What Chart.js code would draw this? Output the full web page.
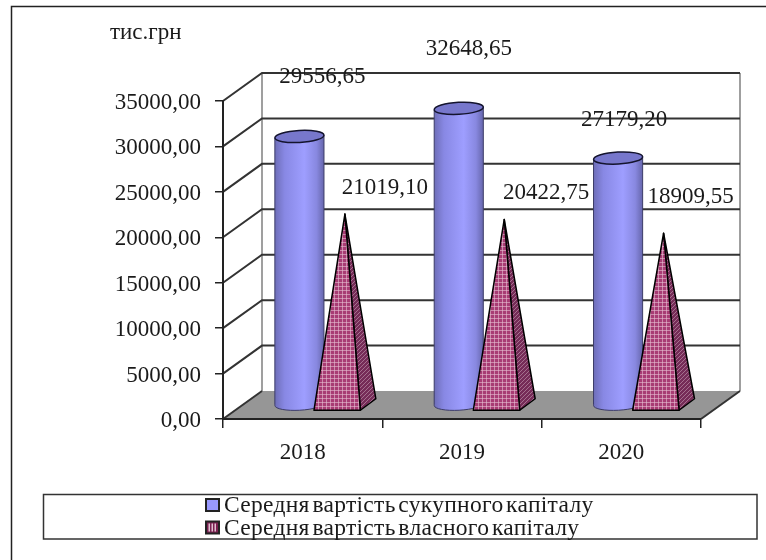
<!DOCTYPE html>
<html>
<head>
<meta charset="utf-8">
<title>Середня вартість капіталу</title>
<script src="https://cdn.jsdelivr.net/npm/chart.js@4"></script>
<style>
    html, body { margin: 0; padding: 0; background: #fff; }
    canvas { display: block; }
</style>
</head>
<body>
<canvas id="chartCanvas" width="766" height="560"></canvas>
<script>
const years = ['2018', '2019', '2020'];
const totalCapital = [29556.65, 32648.65, 27179.20];
const ownCapital = [21019.10, 20422.75, 18909.55];
const seriesNames = ['Середня вартість сукупного капіталу', 'Середня вартість власного капіталу'];
const unitLabel = 'тис.грн';
const axisMax = 35000;
const axisStep = 5000;

const FONT = '"Liberation Serif", "Times New Roman", serif';
const TEXT = '#1a1a1a';
// depth of the fake 3D box, marks stand in the middle of it
const DEPTH_X = 39;
const DEPTH_Y = 28;
// hand placed data labels in the original, offset from the top of each mark
const labelOffsets = [
    [[23, -60], [10, -59], [6, -38]],
    [[40, -26], [42, -26], [27, -36]]
];

function money(v) {
    return v.toFixed(2).replace('.', ',');
}

function plaidPattern() {
    const c = document.createElement('canvas');
    c.width = 4; c.height = 4;
    const g = c.getContext('2d');
    g.fillStyle = '#a83c74';
    g.fillRect(0, 0, 4, 4);
    g.fillStyle = 'rgba(230,190,210,0.6)';
    g.fillRect(2, 0, 1, 4);
    g.fillRect(0, 2, 4, 1);
    return c;
}

function hatchPattern() {
    const c = document.createElement('canvas');
    c.width = 4; c.height = 4;
    const g = c.getContext('2d');
    g.fillStyle = '#762c58';
    g.fillRect(0, 0, 4, 4);
    g.fillStyle = '#a5708e';
    for (let i = 0; i < 4; i++) g.fillRect(i, 3 - i, 1, 1);
    return c;
}

function drawBox(chart) {
    const ctx = chart.ctx;
    const area = chart.chartArea;
    const y = chart.scales.y;
    ctx.save();
    // floor
    ctx.fillStyle = '#969696';
    ctx.beginPath();
    ctx.moveTo(area.left, area.bottom);
    ctx.lineTo(area.right, area.bottom);
    ctx.lineTo(area.right + DEPTH_X, area.bottom - DEPTH_Y);
    ctx.lineTo(area.left + DEPTH_X, area.bottom - DEPTH_Y);
    ctx.closePath();
    ctx.fill();
    // walls
    ctx.strokeStyle = '#808080';
    ctx.lineWidth = 1.5;
    ctx.beginPath();
    ctx.moveTo(area.left + DEPTH_X, area.top - DEPTH_Y);
    ctx.lineTo(area.left + DEPTH_X, area.bottom - DEPTH_Y);
    ctx.moveTo(area.right + DEPTH_X, area.top - DEPTH_Y);
    ctx.lineTo(area.right + DEPTH_X, area.bottom - DEPTH_Y);
    ctx.stroke();
    // grid lines run along the side wall and the back wall
    ctx.strokeStyle = '#333';
    ctx.lineWidth = 2;
    y.ticks.forEach(function (t) {
        const py = y.getPixelForValue(t.value);
        ctx.beginPath();
        ctx.moveTo(area.left, py);
        ctx.lineTo(area.left + DEPTH_X, py - DEPTH_Y);
        if (t.value > 0) ctx.lineTo(area.right + DEPTH_X, py - DEPTH_Y);
        ctx.stroke();
    });
    ctx.beginPath();
    ctx.moveTo(area.right, area.bottom);
    ctx.lineTo(area.right + DEPTH_X, area.bottom - DEPTH_Y);
    ctx.stroke();
    ctx.restore();
}

function drawCylinder(ctx, bar) {
    const rx = bar.width * 0.54;
    const ry = 6;
    const cx = bar.x + DEPTH_X / 2;
    const top = bar.y - DEPTH_Y / 2;
    const base = bar.base - DEPTH_Y / 2;
    const tilt = -0.055;
    const grad = ctx.createLinearGradient(cx - rx, 0, cx + rx, 0);
    grad.addColorStop(0, '#6e6eb8');
    grad.addColorStop(0.2, '#8888e4');
    grad.addColorStop(0.6, '#9e9eff');
    grad.addColorStop(0.85, '#8888e0');
    grad.addColorStop(1, '#6666ac');
    ctx.fillStyle = grad;
    ctx.strokeStyle = '#3c3c68';
    ctx.lineWidth = 1;
    ctx.beginPath();
    ctx.moveTo(cx - rx, top + 1.5);
    ctx.lineTo(cx - rx, base);
    ctx.ellipse(cx, base, rx, ry, tilt, Math.PI, 0, true);
    ctx.lineTo(cx + rx, top - 1.5);
    ctx.closePath();
    ctx.fill();
    ctx.stroke();
    ctx.beginPath();
    ctx.ellipse(cx, top, rx, ry, tilt, 0, Math.PI * 2);
    ctx.fillStyle = '#7777cc';
    ctx.fill();
    ctx.strokeStyle = '#14142e';
    ctx.lineWidth = 1.5;
    ctx.stroke();
}

function drawPyramid(ctx, bar, plaid, hatch) {
    const cx = bar.x + DEPTH_X / 2;
    const top = bar.y - DEPTH_Y / 2;
    const base = bar.base - DEPTH_Y / 2;
    const w = bar.width;
    const frontLeft = [cx - w * 0.68, base + 6];
    const frontRight = [cx + w * 0.34, base + 6];
    const backRight = [cx + w * 0.68, base - 5.5];
    // side face
    ctx.fillStyle = ctx.createPattern(hatch, 'repeat');
    ctx.beginPath();
    ctx.moveTo(cx, top);
    ctx.lineTo(frontRight[0], frontRight[1]);
    ctx.lineTo(backRight[0], backRight[1]);
    ctx.closePath();
    ctx.fill();
    ctx.strokeStyle = '#000';
    ctx.lineWidth = 1.5;
    ctx.lineJoin = 'round';
    ctx.stroke();
    // front face
    ctx.fillStyle = ctx.createPattern(plaid, 'repeat');
    ctx.beginPath();
    ctx.moveTo(cx, top);
    ctx.lineTo(frontLeft[0], frontLeft[1]);
    ctx.lineTo(frontRight[0], frontRight[1]);
    ctx.closePath();
    ctx.fill();
    ctx.stroke();
}

function drawLegend(chart) {
    const ctx = chart.ctx;
    ctx.save();
    ctx.strokeStyle = '#333';
    ctx.lineWidth = 1.5;
    ctx.strokeRect(43.5, 494.5, 713.5, 44.5);
    ctx.font = '23.5px ' + FONT;
    ctx.letterSpacing = '0.3px';
    ctx.wordSpacing = '-3.5px';
    ctx.textBaseline = 'middle';
    ctx.textAlign = 'left';
    chart.data.datasets.forEach(function (ds, i) {
        const top = 499 + i * 22.5;
        ctx.fillStyle = i === 0 ? '#9999ff' : '#7a2050';
        ctx.fillRect(206, top, 13, 12);
        if (i === 1) {
            ctx.fillStyle = '#e0c0d0';
            ctx.fillRect(208.5, top + 2, 1.5, 8);
            ctx.fillRect(211.5, top + 2, 1.5, 8);
            ctx.fillRect(214.5, top + 2, 1.5, 8);
        }
        ctx.strokeStyle = '#222';
        ctx.lineWidth = 2;
        ctx.strokeRect(206, top, 13, 12);
        ctx.fillStyle = TEXT;
        ctx.fillText(ds.label, 224, top + 7);
    });
    ctx.restore();
}

const plaid = plaidPattern();
const hatch = hatchPattern();

const boxPlugin = {
    id: 'box3d',
    beforeDraw: function (chart) {
        const ctx = chart.ctx;
        ctx.save();
        // page frame, open on the right and at the bottom
        ctx.strokeStyle = '#222';
        ctx.lineWidth = 1.5;
        ctx.beginPath();
        ctx.moveTo(11.5, 560);
        ctx.lineTo(11.5, 6.5);
        ctx.lineTo(766, 6.5);
        ctx.stroke();
        ctx.fillStyle = TEXT;
        ctx.font = '23px ' + FONT;
        ctx.textAlign = 'left';
        ctx.textBaseline = 'middle';
        ctx.fillText(unitLabel, 110, 33);
        ctx.restore();
        drawBox(chart);
    },
    afterDatasetsDraw: function (chart) {
        const ctx = chart.ctx;
        const cylinders = chart.getDatasetMeta(0).data;
        const pyramids = chart.getDatasetMeta(1).data;
        ctx.save();
        cylinders.forEach(function (bar, i) {
            drawCylinder(ctx, bar);
            drawPyramid(ctx, pyramids[i], plaid, hatch);
        });
        ctx.fillStyle = TEXT;
        ctx.font = '23px ' + FONT;
        ctx.textAlign = 'center';
        ctx.textBaseline = 'middle';
        [cylinders, pyramids].forEach(function (bars, s) {
            bars.forEach(function (bar, i) {
                const off = labelOffsets[s][i];
                const v = chart.data.datasets[s].data[i];
                ctx.fillText(money(v), bar.x + DEPTH_X / 2 + off[0], bar.y - DEPTH_Y / 2 + off[1]);
            });
        });
        ctx.restore();
        drawLegend(chart);
    }
};

const chartCtx = document.getElementById('chartCanvas').getContext('2d');
// the reference text is slightly stretched
chartCtx.letterSpacing = '0.4px';

new Chart(chartCtx, {
    type: 'bar',
    data: {
        labels: years,
        datasets: [
            { label: seriesNames[0], data: totalCapital, backgroundColor: 'rgba(153,153,255,0)' },
            { label: seriesNames[1], data: ownCapital, backgroundColor: 'rgba(153,51,102,0)' }
        ]
    },
    options: {
        responsive: false,
        animation: false,
        layout: { padding: { left: 0, right: 65, top: 101, bottom: 0 } },
        datasets: { bar: { categoryPercentage: 0.571, barPercentage: 1 } },
        plugins: {
            legend: { display: false },
            tooltip: { enabled: false }
        },
        scales: {
            x: {
                afterFit: function (s) { s.height = 141; },
                grid: { drawOnChartArea: false, tickLength: 9, color: '#222', lineWidth: 1.5 },
                border: { color: '#222', width: 2 },
                ticks: { color: TEXT, padding: 11, maxRotation: 0, font: { family: FONT, size: 23 } }
            },
            y: {
                min: 0,
                max: axisMax,
                afterFit: function (s) { s.width = 223; },
                grid: { drawOnChartArea: false, tickLength: 8, color: '#222', lineWidth: 1.5 },
                border: { color: '#222', width: 2 },
                ticks: {
                    stepSize: axisStep,
                    color: TEXT,
                    padding: 14,
                    labelOffset: 2,
                    font: { family: FONT, size: 23 },
                    callback: function (v) { return money(v); }
                }
            }
        }
    },
    plugins: [boxPlugin]
});
</script>
</body>
</html>
